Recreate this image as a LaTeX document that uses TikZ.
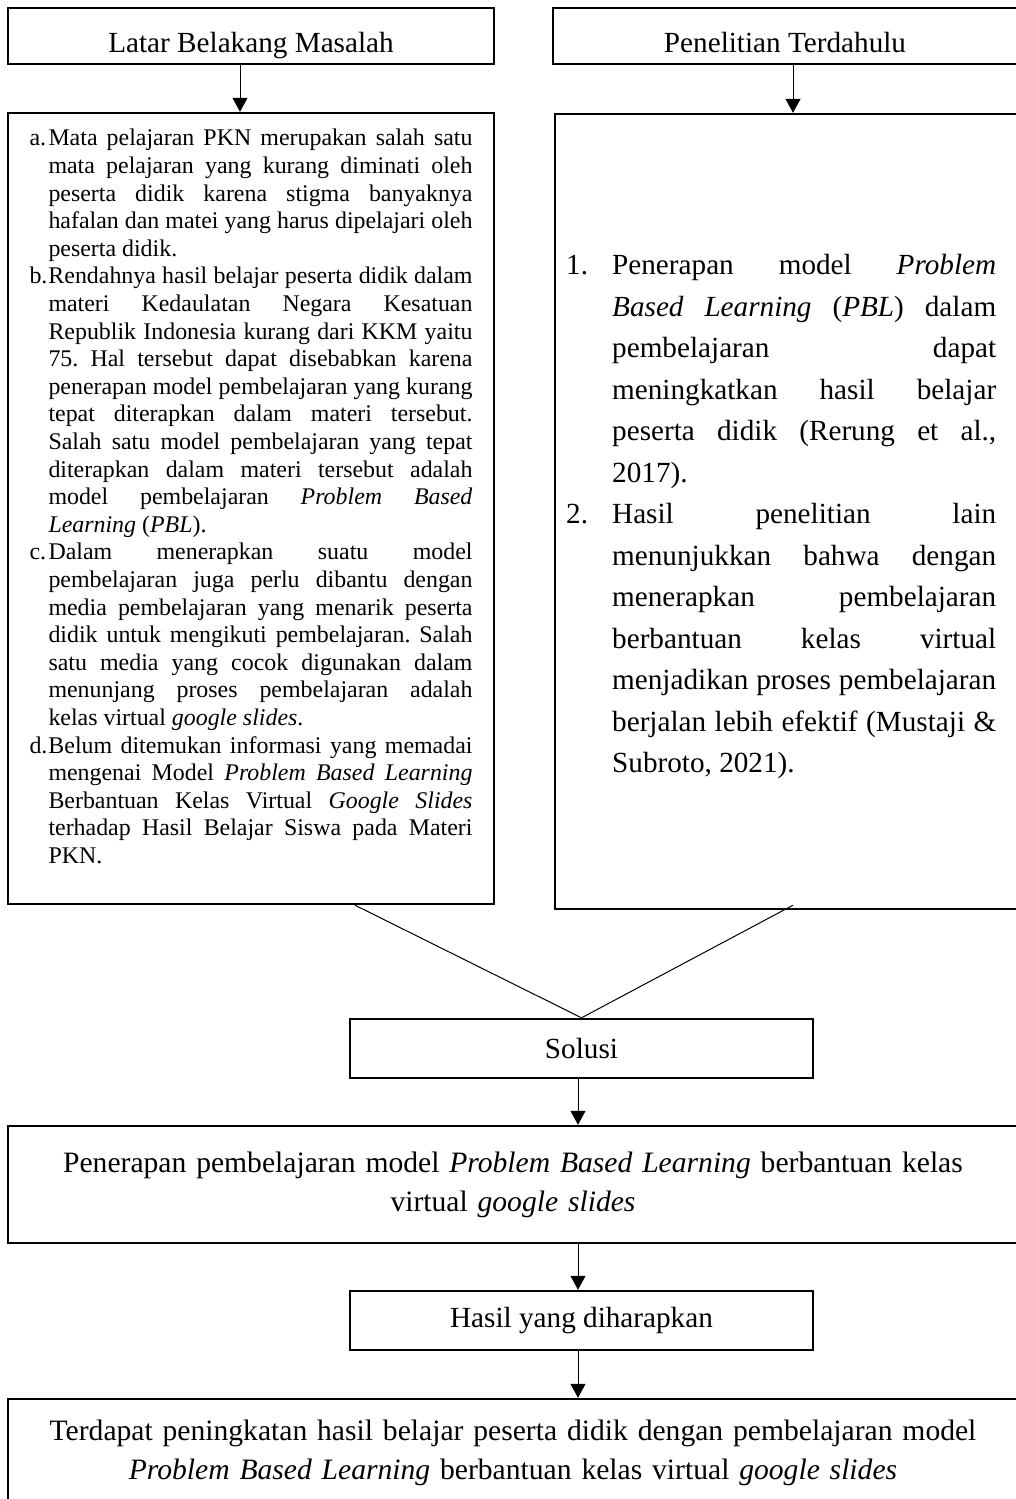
\documentclass[tikz,border=0pt]{standalone}
\usepackage{fontspec}
\setmainfont{Liberation Serif}
\usetikzlibrary{arrows.meta}
\frenchspacing

\newcommand{\poin}[3]{\hangindent=#2\hangafter=1\makebox[#2][l]{#1}#3\par}

\tikzset{
  kotak/.style={draw, line width=1.2pt, inner sep=0pt},
  judul/.style={kotak, font=\fontsize{14.6}{17}\selectfont},
  kepala/.style={judul, minimum height=28pt, text height=17pt, text depth=0pt},
  isi/.style={inner sep=0pt, align=justify},
  panah/.style={-{Triangle[width=7.5pt,length=7pt]}, line width=0.5pt},
  garis/.style={line width=0.5pt}
}

\begin{document}
\begin{tikzpicture}[x=0.5pt, y=-0.5pt]
   \useasboundingbox (0,0) rectangle (1016,1499);

   \node[kepala, minimum width=243pt] (latar) at (251,36) {Latar Belakang Masalah};
   \node[kepala, minimum width=232pt] (penelitian) at (785,36) {Penelitian Terdahulu};

   \node[kotak, minimum width=243pt, minimum height=395.5pt] (masalah) at (251,508.5) {};
   \node[kotak, minimum width=249.5pt, minimum height=397.5pt] (terdahulu) at (804.5,511.5) {};

   \node[isi, text width=221.5pt, anchor=north, font=\fontsize{11.95}{13.8}\selectfont]
      (teksmasalah) at ([yshift=-8.6pt]masalah.north) {%
      \poin{a.}{9.5pt}{Mata pelajaran PKN merupakan salah satu\linebreak
      mata pelajaran yang kurang diminati oleh\linebreak
      peserta didik karena stigma banyaknya\linebreak
      hafalan dan matei yang harus dipelajari oleh\linebreak
      peserta didik.}%
      \poin{b.}{9.5pt}{Rendahnya hasil belajar peserta didik dalam\linebreak
      materi Kedaulatan Negara Kesatuan\linebreak
      Republik Indonesia kurang dari KKM yaitu\linebreak
      75. Hal tersebut dapat disebabkan karena\linebreak
      penerapan model pembelajaran yang kurang\linebreak
      tepat diterapkan dalam materi tersebut.\linebreak
      Salah satu model pembelajaran yang tepat\linebreak
      diterapkan dalam materi tersebut adalah\linebreak
      model pembelajaran \textit{Problem Based}\linebreak
      \textit{Learning} (\textit{PBL}).}%
      \poin{c.}{9.5pt}{Dalam menerapkan suatu model\linebreak
      pembelajaran juga perlu dibantu dengan\linebreak
      media pembelajaran yang menarik peserta\linebreak
      didik untuk mengikuti pembelajaran. Salah\linebreak
      satu media yang cocok digunakan dalam\linebreak
      menunjang proses pembelajaran adalah\linebreak
      kelas virtual \textit{google slides}.}%
      \poin{d.}{9.5pt}{Belum ditemukan informasi yang memadai\linebreak
      mengenai Model \textit{Problem Based Learning}\linebreak
      Berbantuan Kelas Virtual \textit{Google Slides}\linebreak
      terhadap Hasil Belajar Siswa pada Materi\linebreak
      PKN.}};

   \node[isi, text width=215pt, anchor=west, font=\fontsize{14.6}{20.75}\selectfont]
      (teksterdahulu) at ([xshift=6pt,yshift=-2.5pt]terdahulu.west) {%
      \poin{1.}{23pt}{Penerapan model \textit{Problem}\linebreak
      \textit{Based Learning} (\textit{PBL}) dalam\linebreak
      pembelajaran dapat\linebreak
      meningkatkan hasil belajar\linebreak
      peserta didik (Rerung et al.,\linebreak
      2017).}%
      \poin{2.}{23pt}{Hasil penelitian lain\linebreak
      menunjukkan bahwa dengan\linebreak
      menerapkan pembelajaran\linebreak
      berbantuan kelas virtual\linebreak
      menjadikan proses pembelajaran\linebreak
      berjalan lebih efektif (Mustaji \&\linebreak
      Subroto, 2021).}};

   \node[judul, minimum width=231.5pt, minimum height=29.5pt] (solusi) at (581.5,1048.5) {Solusi};
   \node[kotak, minimum width=505pt, minimum height=58.5pt, text width=500pt, align=center,
      font=\fontsize{14.8}{19.5}\selectfont] (penerapan) at (513,1184.5)
      {Penerapan pembelajaran model \textit{Problem Based Learning} berbantuan kelas\\
       virtual \textit{google slides}};
   \node[judul, minimum width=231.5pt, minimum height=29.5pt] (hasil) at (581.5,1320.5) {Hasil yang diharapkan};
   \node[kotak, minimum width=505pt, minimum height=53.5pt, text width=500pt, align=center,
      font=\fontsize{14.8}{19.5}\selectfont] (harapan) at (513,1452.5)
      {Terdapat peningkatan hasil belajar peserta didik dengan pembelajaran model\\
       \textit{Problem Based Learning} berbantuan kelas virtual \textit{google slides}};

   \draw[panah] ([xshift=-5.5pt]latar.south) -- ([xshift=-5.5pt]masalah.north);
   \draw[panah] ([xshift=4pt]penelitian.south) -- ([xshift=4pt]penelitian.south |- terdahulu.north);
   \draw[garis] ([xshift=52pt]masalah.south) -- (solusi.north);
   \draw[garis] ([xshift=-5.75pt,yshift=2.5pt]terdahulu.south) -- (solusi.north);
   \draw[panah] ([xshift=-1.75pt]solusi.south) -- ([xshift=-1.75pt]solusi.south |- penerapan.north);
   \draw[panah] ([xshift=-1.75pt]hasil.north |- penerapan.south) -- ([xshift=-1.75pt]hasil.north);
   \draw[panah] ([xshift=-1.75pt]hasil.south) -- ([xshift=-1.75pt]hasil.south |- harapan.north);

\end{tikzpicture}
\end{document}
